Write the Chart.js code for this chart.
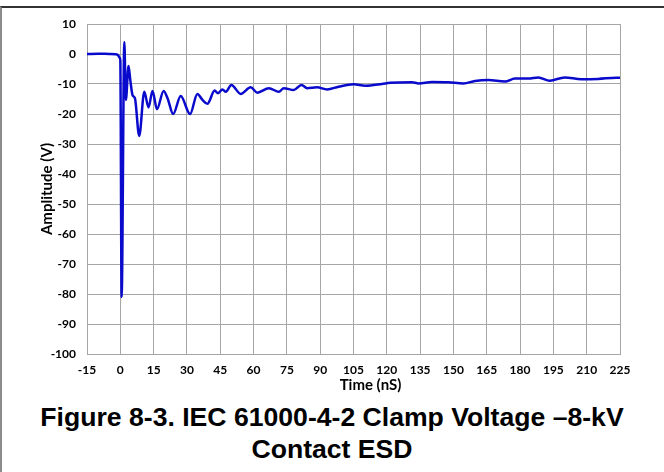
<!DOCTYPE html>
<html>
<head>
<meta charset="utf-8">
<script src="https://cdn.jsdelivr.net/npm/chart.js@4"></script>
<style>
  html, body { margin: 0; padding: 0; background: #fff; }
  body { width: 664px; height: 472px; overflow: hidden; position: relative; }
  #frame {
    position: absolute; left: 0; top: 6px; width: 662px; height: 466px;
    border-top: 2px solid #333; border-left: 2px solid #8c8c8c;
  }
  #box { position: absolute; left: 0; top: 0; width: 664px; height: 400px; }
  #caption {
    position: absolute; left: 0; top: 401px; width: 664px; text-align: center;
    font-family: "Liberation Sans", Arial, sans-serif; font-weight: bold;
    font-size: 26.6px; line-height: 32px; color: #000;
  }
</style>
</head>
<body>
<div id="frame"></div>
<div id="box"><canvas id="esd"></canvas></div>
<div id="caption">Figure 8-3. IEC 61000-4-2 Clamp Voltage –8-kV<br>Contact ESD</div>
<script>
// waveform
const timeNs = [-15, -10, -5, -2, -1, -0.3, 0, 0.6, 1.8, 2.5,
  3.7, 4.5, 5.5, 6.6, 8.5, 10.8, 12.7, 14.5, 16.5, 19.5,
  21.3, 23.8, 27.2, 31.4, 34.7, 37, 39.2, 42.5, 44, 46,
  47.5, 50, 54.2, 58.7, 61.7, 66.9, 71.4, 73.6, 78.1, 81.6,
  84.1, 88.6, 93.1, 98.3, 105, 110.3, 117.8, 121.5, 131.3, 134.3,
  140.3, 147.7, 154.5, 159.7, 165.7, 173.2, 177.7, 183.7, 188.2, 193.4,
  200.1, 207.6, 215.1, 223.3, 225];
const amplitudeV = [0, 0.1, 0, -0.1, -0.4, -1.2, -2, -81, 4, -15.3,
  -4, -8.7, -13.7, -14.8, -27.3, -12.6, -17.8, -12.3, -18.4, -12.3,
  -14.8, -20, -14, -20, -13.3, -15.3, -16.6, -12.2, -13.1, -11.8,
  -12.6, -10.3, -13.3, -11.1, -12.9, -11.4, -12.6, -11.4, -12, -10.3,
  -11.4, -11.1, -11.8, -10.9, -10.1, -10.6, -10, -9.6, -9.4, -9.8,
  -9.3, -9.4, -9.8, -9, -8.7, -9.2, -8.2, -8.2, -7.8, -8.9,
  -7.8, -8.4, -8.3, -7.9, -7.9];

const xTicks = [-15, 0, 15, 30, 45, 60, 75, 90, 105, 120, 135, 150, 165, 180, 195, 210, 225];
const yTicks = [10, 0, -10, -20, -30, -40, -50, -60, -70, -80, -90, -100];

const tickFont = { family: 'Lato, "Open Sans", sans-serif', size: 12, weight: 'bold' };
const gridColor = '#a6a6a6';

// x title sits a bit right of the plot centre, like in Excel
const xTitle = {
  id: 'xTitle',
  afterDraw(chart) {
    const { ctx, chartArea } = chart;
    ctx.save();
    ctx.font = 'bold 15px Lato, "Open Sans", sans-serif';
    ctx.fillStyle = '#000';
    ctx.textAlign = 'center';
    ctx.textBaseline = 'middle';
    ctx.fillText('Time (nS)', (chartArea.left + chartArea.right) / 2 + 17, 385);
    ctx.restore();
  }
};

new Chart(document.getElementById('esd'), {
  type: 'scatter',
  data: {
    datasets: [{
      data: timeNs.map((t, i) => ({ x: t, y: amplitudeV[i] })),
      showLine: true,
      borderColor: '#0a0acc',
      borderWidth: 2.5,
      pointRadius: 0,
      cubicInterpolationMode: 'monotone'
    }]
  },
  options: {
    responsive: true,
    maintainAspectRatio: false,
    animation: false,
    layout: { padding: { left: 0, top: 24, right: 44, bottom: 0 } },
    plugins: { legend: { display: false }, tooltip: { enabled: false } },
    scales: {
      x: {
        type: 'linear',
        min: -15,
        max: 225,
        afterBuildTicks: (scale) => { scale.ticks = xTicks.map(v => ({ value: v })); },
        afterFit: (scale) => { scale.height = 46; },
        grid: { color: gridColor, drawTicks: false },
        border: { color: gridColor },
        ticks: { font: tickFont, color: '#000', padding: 9, maxRotation: 0, autoSkip: false }
      },
      y: {
        min: -100,
        max: 10,
        afterBuildTicks: (scale) => { scale.ticks = yTicks.map(v => ({ value: v })); },
        afterFit: (scale) => { scale.width = 87; },
        grid: { color: gridColor, drawTicks: false },
        border: { color: gridColor },
        ticks: { font: tickFont, color: '#000', padding: 11 },
        title: {
          display: true,
          text: 'Amplitude (V)',
          color: '#000',
          font: { family: 'Lato, "Open Sans", sans-serif', size: 15, weight: 'bold' },
          padding: { top: 38, bottom: 0 }
        }
      }
    }
  },
  plugins: [xTitle]
});
</script>
</body>
</html>
